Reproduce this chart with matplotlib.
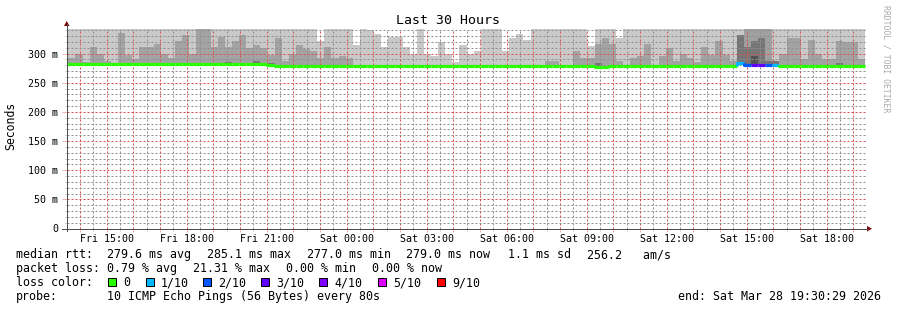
import numpy as np
import matplotlib
matplotlib.use("Agg")
import matplotlib.pyplot as plt
from matplotlib.ticker import MultipleLocator, FuncFormatter
from matplotlib.patches import Rectangle, Polygon
from matplotlib.lines import Line2D

W, H = 897, 310
MONO = "DejaVu Sans Mono"
plt.rcParams["font.family"] = [MONO, "DejaVu Sans"]

# 16 minute consolidation steps, time in hours counted from Fri 00:00
first_bin = 13.3
step = 16 / 60
t_start, t_end = 13.5, 43.5

# outer (light) smoke top per bin, ms
smoke_outer = [
    343, 343, 343, 343, 343, 343, 343, 343, 343, 343,
    343, 343, 343, 343, 343, 343, 343, 343, 343, 343,
    343, 343, 343, 343, 343, 343, 343, 343, 343, 343,
    343, 343, 343, 343, 343, 343, 322, 343, 343, 343,
    343, 314, 343, 341, 334, 311, 329, 329, 311, 300,
    343, 299, 295, 319, 300, 285, 314, 300, 305, 343,
    343, 343, 305, 326, 334, 324, 343, 343, 343, 343,
    343, 343, 343, 343, 313, 343, 343, 343, 326, 343,
    343, 343, 343, 343, 343, 343, 343, 343, 343, 343,
    343, 343, 343, 343, 343, 343, 343, 343, 343, 343,
    343, 343, 343, 343, 343, 343, 343, 343, 343, 343,
    343, 343, 343,
]
# inner (darker) smoke top per bin, ms (None = no inner band)
smoke_inner = [
    304, 293, 299, 285, 312, 299, 288, 283, 336, 297,
    290, 312, 311, 317, 299, 293, 322, 331, 300, 343,
    343, 312, 329, 312, 321, 331, 309, 314, 309, 297,
    326, 288, 299, 314, 307, 304, 293, 312, 293, 295,
    292, None, None, None, None, None, None, None, None, None,
    None, None, None, None, None, None, None, None, None, None,
    None, None, None, None, None, None, None, None, 287, 287,
    None, None, 305, 293, 292, 317, 326, 317, 288, None,
    293, 295, 316, None, 295, 309, 287, 299, 292, 285,
    312, 297, 322, 297, 288, 331, 312, 321, 326, 287,
    288, 299, 326, 326, 290, 324, 300, 290, 290, 322,
    319, 319, 290,
]
# darkest smoke core per bin, ms
smoke_core = [None] * 113
for i, v in ((23, 285), (27, 287), (29, 283), (75, 283), (97, 295), (109, 283)):
    smoke_core[i] = v

median_rtt = (
    [281.5] * 29 + [280.0] + [278.5] * 45 + [277.5] * 2 + [279.5] * 18
    + [284.0] + [281.0] * 5 + [279.5] * 12
)
loss_tenths = [0] * 95 + [1, 2, 3, 3, 2, 1] + [0] * 12

loss_labels = ["0", "1/10", "2/10", "3/10", "4/10", "5/10", "9/10"]
loss_steps = [0, 1, 2, 3, 4, 5, 9]
loss_colors = ["#26ff00", "#00b8ff", "#0059ff", "#5e00ff", "#7e00ff", "#dd00ff", "#ff0000"]

grid_c = (143 / 255, 143 / 255, 143 / 255, 0.45)
mgrid_c = (222 / 255, 79 / 255, 79 / 255, 0.42)
axis_c = "#4f4f4f"
arrow_c = "#7f0000"


def fx(x):
    return x / W


def fy(y):
    return 1 - y / H


def loss_color(k):
    c = loss_colors[0]
    for s, col in zip(loss_steps, loss_colors):
        if k >= s:
            c = col
    return c


fig = plt.figure(figsize=(W / 100, H / 100), dpi=100)
ax = fig.add_axes([fx(66.5), fy(228.5), 800 / W, 200 / H])

n = len(median_rtt)
t = first_bin + step * np.arange(n)
med = np.array(median_rtt, dtype=float)
loss = np.array(loss_tenths)
outer = np.array(smoke_outer, dtype=float)
inner = np.array(smoke_inner, dtype=float)
core = np.array(smoke_core, dtype=float)
outer_col = np.where(loss >= 2, "#a0a0a0", "#c9c9c9")
inner_col = np.where(loss >= 1, "#767676", "#a3a3a3")
core_col = np.where(loss >= 1, "#545454", "#767676")

for top, cols in ((outer, outer_col), (inner, inner_col), (core, core_col)):
    ok = ~np.isnan(top)
    ax.bar(t[ok], top[ok] - med[ok], bottom=med[ok], width=step, align="edge",
           color=cols[ok], linewidth=0, zorder=1)

# median rtt, coloured by packet loss
for i in range(n):
    prev = med[i - 1] if i else med[i]
    ax.plot([t[i], t[i], t[i] + step], [prev, med[i], med[i]], color=loss_color(loss[i]),
            lw=2.3, solid_capstyle="butt", zorder=3)

ax.set_xlim(t_start, t_end)
ax.set_ylim(0, 343)
ax.xaxis.set_major_locator(MultipleLocator(1))
ax.xaxis.set_minor_locator(MultipleLocator(0.5))
ax.yaxis.set_major_locator(MultipleLocator(50))
ax.yaxis.set_minor_locator(MultipleLocator(10))
ax.set_axisbelow(False)
ax.grid(which="minor", color=grid_c, lw=0.72, linestyle=(0, (2, 2)))
ax.grid(which="major", color=mgrid_c, lw=0.72, linestyle=(0, (2, 2)))


def xlab(h, pos):
    hr = int(round(h))
    if hr % 3:
        return ""
    day = "Fri" if hr < 24 else "Sat"
    return f"{day} {hr % 24:02d}:00"


ax.xaxis.set_major_formatter(FuncFormatter(xlab))
ax.yaxis.set_major_formatter(FuncFormatter(lambda v, p: "0" if v == 0 else f"{v:.0f} m"))
ax.tick_params(axis="x", which="major", length=2, width=0.72, color=mgrid_c, pad=2.2, labelsize=7.2)
ax.tick_params(axis="x", which="minor", length=1.5, width=0.72, color=grid_c)
ax.tick_params(axis="y", which="major", length=3.6, width=0.72, color=mgrid_c, pad=2.4, labelsize=7.2)
ax.tick_params(axis="y", which="minor", length=1.5, width=0.72, color=grid_c)
for s in ax.spines.values():
    s.set_visible(False)

# axes with arrows
fig.add_artist(Line2D([fx(61.5), fx(868)], [fy(228.5), fy(228.5)], color=axis_c, lw=0.72))
fig.add_artist(Line2D([fx(66.5), fx(66.5)], [fy(231), fy(24)], color=axis_c, lw=0.72))
fig.add_artist(Polygon([(fx(64), fy(26)), (fx(69.5), fy(26)), (fx(66.75), fy(21))],
                       closed=True, color=arrow_c, lw=0, transform=fig.transFigure))
fig.add_artist(Polygon([(fx(867), fy(226)), (fx(867), fy(231.5)), (fx(872), fy(228.75))],
                       closed=True, color=arrow_c, lw=0, transform=fig.transFigure))

fig.text(fx(448), fy(24), "Last 30 Hours", ha="center", va="baseline", fontsize=9.5)
fig.text(fx(11), fy(126), "Seconds", rotation=90, ha="center", va="center", fontsize=8.3)
fig.text(fx(886), fy(59), "RRDTOOL / TOBI OETIKER", rotation=270, ha="center", va="center",
         fontsize=5.9, color="#aaaaaa")

fs = 8.35
line1 = [(16, "median rtt:"), (107, "279.6 ms avg"), (207, "285.1 ms max"), (307, "277.0 ms min"),
         (406, "279.0 ms now"), (508, "1.1 ms sd"), (587, "256.2   am/s")]
line2 = [(16, "packet loss:"), (107, "0.79 % avg"), (193, "21.31 % max"), (286, "0.00 % min"),
         (372, "0.00 % now")]
for x, s in line1:
    fig.text(fx(x), fy(258), s, va="baseline", fontsize=fs)
for x, s in line2:
    fig.text(fx(x), fy(272), s, va="baseline", fontsize=fs)
fig.text(fx(16), fy(286), "loss color:", va="baseline", fontsize=fs)
box_x = [108, 146, 203, 261, 319, 378, 437]
for x, lab, col in zip(box_x, loss_labels, loss_colors):
    fig.add_artist(Rectangle((fx(x), fy(286)), 8 / W, 8 / H, facecolor=col, edgecolor="black",
                             lw=0.72, transform=fig.transFigure))
    fig.text(fx(x + 15), fy(286), lab, va="baseline", fontsize=fs)
fig.text(fx(16), fy(300), "probe:", va="baseline", fontsize=fs)
fig.text(fx(107), fy(300), "10 ICMP Echo Pings (56 Bytes) every 80s", va="baseline", fontsize=fs)
fig.text(fx(881), fy(300), "end: Sat Mar 28 19:30:29 2026", ha="right", va="baseline", fontsize=fs)

fig.savefig("out.png", dpi=100)
